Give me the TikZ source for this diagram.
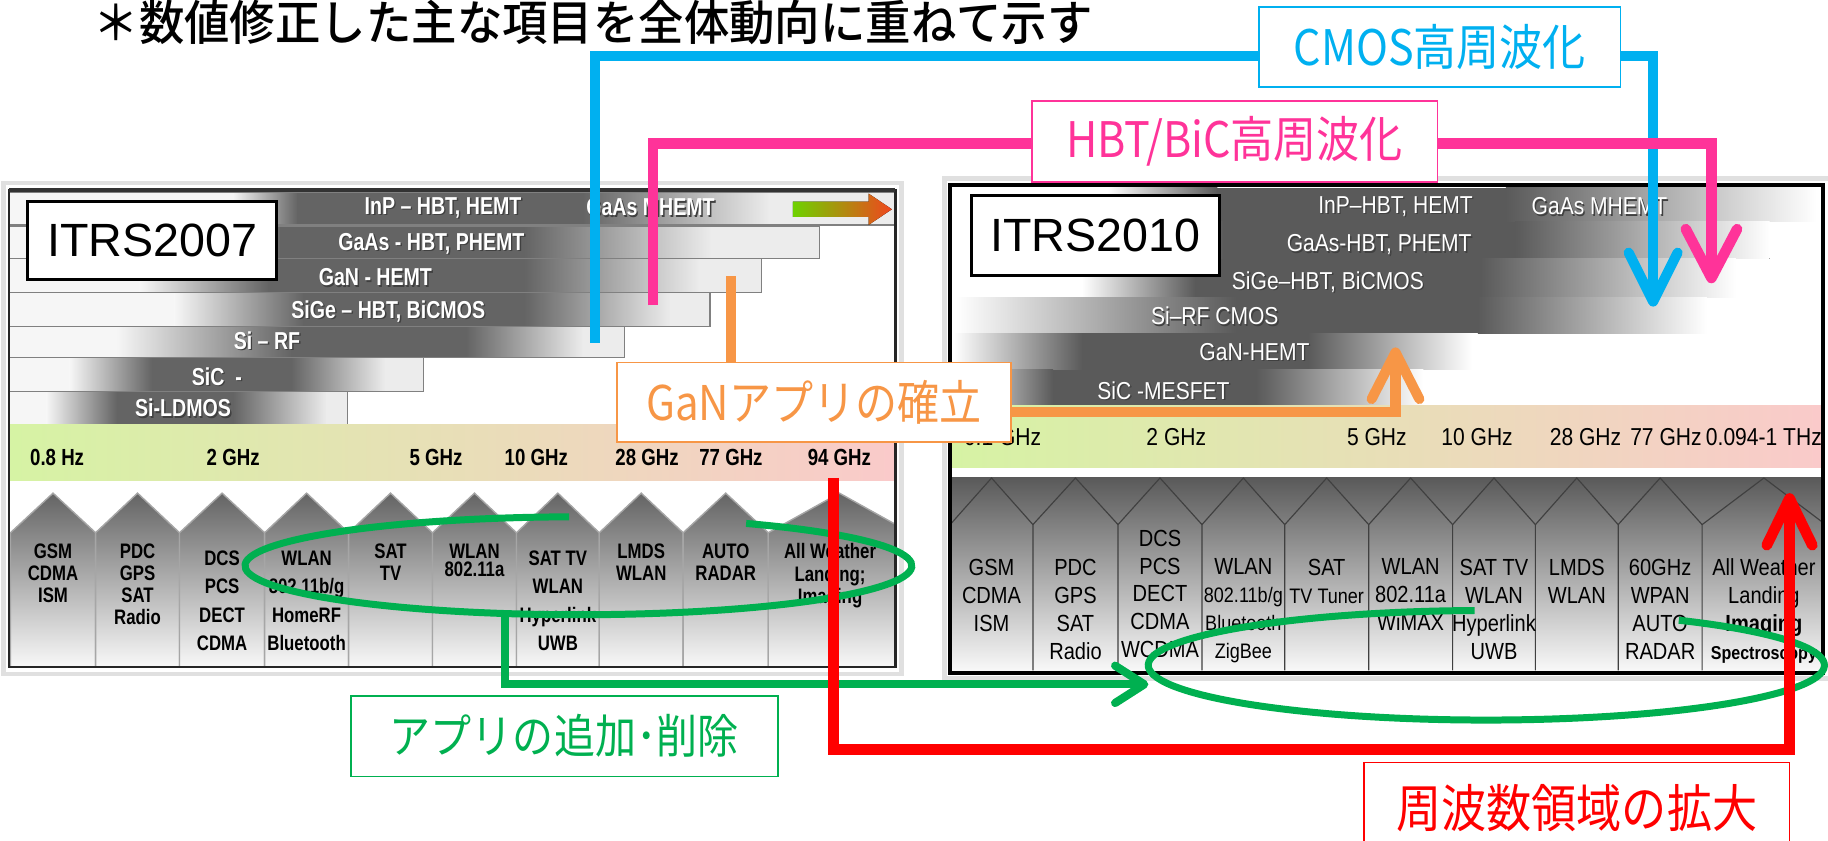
\documentclass[tikz,border=0pt]{standalone}
\usepackage{fontspec}
\setmainfont{Liberation Sans}
\newfontfamily\cjkn[FakeStretch=0.88]{Noto Sans CJK JP}
\newfontfamily\cjkt[FakeStretch=0.95]{Noto Sans CJK JP Medium}
\newfontfamily\narb[FakeStretch=0.8]{Liberation Sans}
\newfontfamily\narr[FakeStretch=0.86]{Liberation Sans}
\usetikzlibrary{arrows.meta}
\definecolor{cmosblue}{HTML}{00B0F0}
\definecolor{hbtpink}{HTML}{FF3399}
\definecolor{ganorange}{HTML}{F79646}
\definecolor{appgreen}{HTML}{00B050}
\definecolor{frqred}{HTML}{FF0000}
\definecolor{bandg}{RGB}{214,243,164}
\definecolor{bandm}{RGB}{238,230,178}
\definecolor{bandp}{RGB}{250,202,202}
\definecolor{bardk}{RGB}{100,100,100}
\definecolor{barlt}{RGB}{236,236,236}
\definecolor{barwh}{RGB}{246,246,246}
\definecolor{rbdk}{RGB}{90,90,90}
\definecolor{hdk}{RGB}{100,100,100}
\definecolor{hlt}{RGB}{248,248,248}
\definecolor{arrg}{RGB}{110,210,0}
\definecolor{arrr}{RGB}{240,70,30}
\newcommand\lbarA[7]{%
 \fill[barwh] (8,#1) rectangle (#3,#2);
 \fill[left color=barwh,right color=bardk] (#3-0.3,#1) rectangle (#4+0.3,#2);
 \fill[left color=bardk,right color=barlt] (#5-0.3,#1) rectangle (#6+0.3,#2);
 \fill[barlt] (#6,#1) rectangle (#7,#2);
 \fill[bardk] (#4,#1) rectangle (#5,#2);
 \draw[barbd] (8,#1) rectangle (#7,#2);}
\newcommand\rbarA[6]{%
 \fill[left color=white,right color=rbdk] (#3,#1) rectangle (#4+0.3,#2);
 \fill[left color=rbdk,right color=white] (#5-0.3,#1) rectangle (#6,#2);
 \fill[rbdk] (#4,#1) rectangle (#5,#2);}
\newcommand\shtxt[4]{%
 \node[#1,text=black!75,xshift=0.6pt,yshift=-0.6pt] (#2s) at (#3) {#4};
 \node[#1,text=white] (#2) at (#3) {#4};}
\begin{document}
\begin{tikzpicture}[x=0.5pt,y=-0.5pt,line join=miter,
  barbd/.style={draw=black!50,line width=0.5pt},
  bartxt/.style={font=\narb\bfseries\fontsize{10.5}{12}\selectfont,inner sep=0},
  rbartxt/.style={font=\narr\fontsize{10.5}{12}\selectfont,inner sep=0},
  lfrq/.style={font=\narb\bfseries\fontsize{10}{12}\selectfont,inner sep=0},
  rfrq/.style={font=\narr\fontsize{10.5}{12}\selectfont,inner sep=0},
  lhouse/.style={font=\narb\bfseries\fontsize{9}{9.5}\selectfont,align=center,inner sep=0,anchor=north},
  lhouseB/.style={lhouse,font=\narb\bfseries\fontsize{9}{12.2}\selectfont},
  lhouseC/.style={lhouse,font=\narb\bfseries\fontsize{9}{7.8}\selectfont},
  rhouse/.style={font=\narr\fontsize{10}{12}\selectfont,align=center,inner sep=0,anchor=north},
  hline/.style={draw=black!75,line width=0.5pt},
  itrs/.style={draw=black,fill=white,line width=1.3pt,inner sep=0,font=\fontsize{20}{22}\selectfont},
  lbox/.style={draw,fill=white,line width=0.8pt,inner sep=0},
  cmosline/.style={draw=cmosblue,line width=4.3pt,-{Straight Barb[length=21pt,width=21pt,round]}},
  hbtline/.style={draw=hbtpink,line width=4.5pt,-{Straight Barb[length=21pt,width=22pt,round]}},
  ganline/.style={draw=ganorange,line width=4.3pt,-{Straight Barb[length=20pt,width=20.5pt,round]}},
  appline/.style={draw=appgreen,line width=3.5pt,-{Straight Barb[length=12.5pt,width=16pt,round]}},
  appell/.style={draw=appgreen,line width=3pt},
  frqline/.style={draw=frqred,line width=4.6pt,-{Straight Barb[length=20pt,width=19.5pt,round]}}
]
\useasboundingbox (0,0) rectangle (1568,721);
\clip (0,0) rectangle (1568,721);
\fill[white] (0,0) rectangle (1568,721);

% ---------- left panel ----------
\draw[black!12,line width=2pt] (3,157) rectangle (773,578);
\fill[white] (8,163) rectangle (768,572);
\lbarA{165}{193}{200}{255}{500}{660}{768}
\lbarA{194}{222}{200}{240}{450}{610}{703}
\lbarA{222}{251}{120}{230}{450}{600}{653}
\lbarA{251}{280}{150}{260}{450}{575}{609}
\lbarA{280}{307}{100}{250}{400}{500}{536}
\lbarA{307}{336}{60}{130}{250}{330}{363}
\lbarA{336}{364}{40}{100}{200}{280}{298}
\fill[left color=arrg,right color=arrr] (680,173) -- (745,173) -- (745,166) -- (765,179.5) -- (745,193) -- (745,186) -- (680,186) -- cycle;
\shtxt{bartxt}{lb1}{380,178}{InP – HBT, HEMT}
\shtxt{bartxt}{lb1b}{558,178}{GaAs MHEMT}
\shtxt{bartxt}{lb2}{370,209}{GaAs - HBT, PHEMT}
\shtxt{bartxt}{lb3}{322,238}{GaN - HEMT}
\shtxt{bartxt}{lb4}{333,267}{SiGe – HBT, BiCMOS}
\shtxt{bartxt}{lb5}{229,292}{Si – RF}
\shtxt{bartxt}{lb6}{186,323}{SiC\ \ -}
\shtxt{bartxt}{lb7}{157,350}{Si-LDMOS}
\fill[left color=bandg,middle color=bandm,right color=bandp] (8,364) rectangle (768,412);
\node[lfrq] (lf1) at (49,392) {0.8 Hz};
\node[lfrq] (lf2) at (200,392) {2 GHz};
\node[lfrq] (lf3) at (374,392) {5 GHz};
\node[lfrq] (lf4) at (460,392) {10 GHz};
\node[lfrq] (lf5) at (555,392) {28 GHz};
\node[lfrq] (lf6) at (627,392) {77 GHz};
\node[lfrq] (lf7) at (720,392) {94 GHz};
\begin{scope}
\clip (8,163) rectangle (768,572);
\foreach \a/\p/\b in {9/45.5/82,82/118/154,154/190.5/227,227/263/299,299/335/371,371/407/443,443/478.5/514,514/550/586,586/622.5/659,659/720/781}{
  \fill[top color=hdk,bottom color=hlt] (\a,572) -- (\a,457) -- (\p,423) -- (\b,457) -- (\b,572) -- cycle;
  \draw[draw=black!35,line width=0.6pt] (\a,572) -- (\a,457) -- (\p,423) -- (\b,457) -- (\b,572);
}
\end{scope}
\node[lhouse] (lh1) at (45.5,466) {GSM\\CDMA\\ISM};
\node[lhouse] (lh2) at (118,466) {PDC\\GPS\\SAT\\Radio};
\node[lhouseB] (lh3) at (190.5,472) {DCS\\PCS\\DECT\\CDMA};
\node[lhouseB] (lh4) at (263,472) {WLAN\\802.11b/g\\HomeRF\\Bluetooth};
\node[lhouse] (lh5) at (335,466) {SAT\\TV};
\node[lhouseC] (lh6) at (407,466) {WLAN\\802.11a};
\node[lhouseB] (lh7) at (478.5,472) {SAT TV\\WLAN\\Hyperlink\\UWB};
\node[lhouse] (lh8) at (550,466) {LMDS\\WLAN};
\node[lhouse] (lh9) at (622.5,466) {AUTO\\RADAR};
\node[lhouse] (lh10) at (712,466) {All Weather\\Landing;\\Imaging};
\draw[black!85,line width=1pt] (8,163) rectangle (768,572);
\draw[black!80,line width=1.6pt] (8,163) -- (768,163);
\node[itrs,minimum width=106.5pt,minimum height=33.5pt] (itrsA) at (130.5,206.5) {ITRS2007};

% ---------- right panel ----------
\draw[black!12,line width=2pt] (810,153) rectangle (1570,582);
\fill[white] (815,159) rectangle (1564,577);
\rbarA{161}{190}{950}{1044}{1292}{1558}
\rbarA{190}{222}{960}{1049}{1300}{1518}
\rbarA{222}{255}{928}{1025}{1270}{1489}
\rbarA{255}{286}{820}{1060}{1268}{1464}
\rbarA{286}{317}{818}{928}{1122}{1263}
\rbarA{317}{348}{818}{903}{1078}{1221}
\shtxt{rbartxt}{rb1}{1197,177}{InP–HBT, HEMT}
\shtxt{rbartxt}{rb1b}{1372,177}{GaAs MHEMT}
\shtxt{rbartxt}{rb2}{1183,210}{GaAs-HBT, PHEMT}
\shtxt{rbartxt}{rb3}{1139,242}{SiGe–HBT, BiCMOS}
\shtxt{rbartxt}{rb4}{1042,271}{Si–RF CMOS}
\shtxt{rbartxt}{rb5}{1076,302}{GaN-HEMT}
\shtxt{rbartxt}{rb6}{998,335}{SiC -MESFET}
\fill[left color=bandg,middle color=bandm,right color=bandp] (815,348) rectangle (1564,401);
\node[rfrq] (rf1) at (860,375) {0.1 GHz};
\node[rfrq] (rf2) at (1009,375) {2 GHz};
\node[rfrq] (rf3) at (1181,375) {5 GHz};
\node[rfrq] (rf4) at (1267,375) {10 GHz};
\node[rfrq] (rf5) at (1360,375) {28 GHz};
\node[rfrq] (rf6) at (1429,375) {77 GHz};
\node[rfrq] (rf7) at (1513,375) {0.094-1 THz};
\fill[top color=rbdk,bottom color=hlt] (815,410) rectangle (1564,575);
\begin{scope}
\clip (815,159) rectangle (1564,577);
\foreach \a/\p/\b in {815/850.5/886,886/922.5/959,959/995/1031,1031/1066.5/1102,1102/1138/1174,1174/1210/1246,1246/1281.5/1317,1317/1352.5/1388,1388/1424/1460,1460/1513/1566}{
  \draw[hline] (\a,575) -- (\a,450) -- (\p,410) -- (\b,450);
}
\end{scope}
\node[rhouse] (rh1) at (850.5,479) {GSM\\CDMA\\ISM};
\node[rhouse] (rh2) at (922.5,479) {PDC\\GPS\\SAT\\Radio};
\node[rhouse] (rh3) at (995,454) {DCS\\PCS\\DECT\\CDMA\\WCDMA};
\node[rhouse] (rh4) at (1066.5,479) {WLAN\\{\fontsize{9}{12}\selectfont 802.11b/g}\\{\fontsize{9}{12}\selectfont Bluetooth}\\{\fontsize{9}{12}\selectfont ZigBee}};
\node[rhouse] (rh5) at (1138,479) {SAT\\{\fontsize{9}{12}\selectfont TV Tuner}};
\node[rhouse] (rh6) at (1210,479) {WLAN\\802.11a\\WiMAX};
\node[rhouse] (rh7) at (1281.5,479) {SAT TV\\WLAN\\Hyperlink\\UWB};
\node[rhouse] (rh8) at (1352.5,479) {LMDS\\WLAN};
\node[rhouse] (rh9) at (1424,479) {60GHz\\WPAN\\AUTO\\RADAR};
\node[rhouse] (rh10) at (1513,479) {All Weather\\Landing\\{\bfseries Imaging}\\{\bfseries\fontsize{8}{10}\selectfont Spectroscopy}};
\draw[black,line width=1.8pt] (815,159) rectangle (1564,577);
\node[itrs,minimum width=106.5pt,minimum height=34pt] (itrsB) at (939.5,202) {ITRS2010};

% ---------- connectors ----------
\coordinate (bA) at (510,294); \coordinate (bB) at (510,48);
\coordinate (bC) at (1418,48); \coordinate (bD) at (1418,263);
\draw[cmosline] (bA) -- (bB) -- (bC) -- (bD);
\coordinate (pA) at (560,262); \coordinate (pB) at (560,123);
\coordinate (pC) at (1468,123); \coordinate (pD) at (1468,243);
\draw[hbtline] (pA) -- (pB) -- (pC) -- (pD);
\coordinate (oA) at (627,237); \coordinate (oB) at (1197,353); \coordinate (oC) at (1197,298);
\draw[ganorange,line width=4.3pt] (oA) -- (627,312);
\draw[ganline] (860,353) -- (oB) -- (oC);
\draw[appell] (640,449) arc[start angle=300.2,end angle=628.4,x radius=286,y radius=42];
\draw[appell] (1440,532) arc[start angle=304.7,end angle=628,x radius=290,y radius=47];
\coordinate (gA) at (433,525); \coordinate (gB) at (433,587); \coordinate (gC) at (985,587);
\draw[appline] (gA) -- (gB) -- (gC);
\coordinate (rA) at (715,410); \coordinate (rB) at (715,643);
\coordinate (rC) at (1535,643); \coordinate (rD) at (1535,423);
\draw[frqline] (rA) -- (rB) -- (rC) -- (rD);

% ---------- label boxes ----------
\node[lbox,draw=cmosblue,text=cmosblue,minimum width=155pt,minimum height=34.5pt,font=\cjkn\fontsize{21}{22}\selectfont] (cmos) at (1235,40.5) {CMOS高周波化};
\node[lbox,draw=hbtpink,text=hbtpink,minimum width=174pt,minimum height=34.5pt,font=\cjkn\fontsize{21}{22}\selectfont] (hbt) at (1059,121.5) {HBT/BiC高周波化};
\node[lbox,draw=ganorange,text=ganorange,minimum width=169pt,minimum height=34pt,font=\cjkn\fontsize{20.5}{22}\selectfont] (gan) at (698,345) {GaNアプリの確立};
\node[lbox,draw=appgreen,text=appgreen,minimum width=183pt,minimum height=34.5pt,font=\cjkn\fontsize{20}{22}\selectfont] (app) at (484,631.5) {アプリの追加･削除};
\node[lbox,draw=frqred,text=frqred,minimum width=182.5pt,minimum height=39pt,font=\cjkn\fontsize{22}{24}\selectfont] (frq) at (1352.5,693) {周波数領域の拡大};

% ---------- title ----------
\node[font=\cjkt\fontsize{20.5}{22}\selectfont,anchor=west,inner sep=0] (title) at (80,19.5) {＊数値修正した主な項目を全体動向に重ねて示す};
\end{tikzpicture}
\end{document}
